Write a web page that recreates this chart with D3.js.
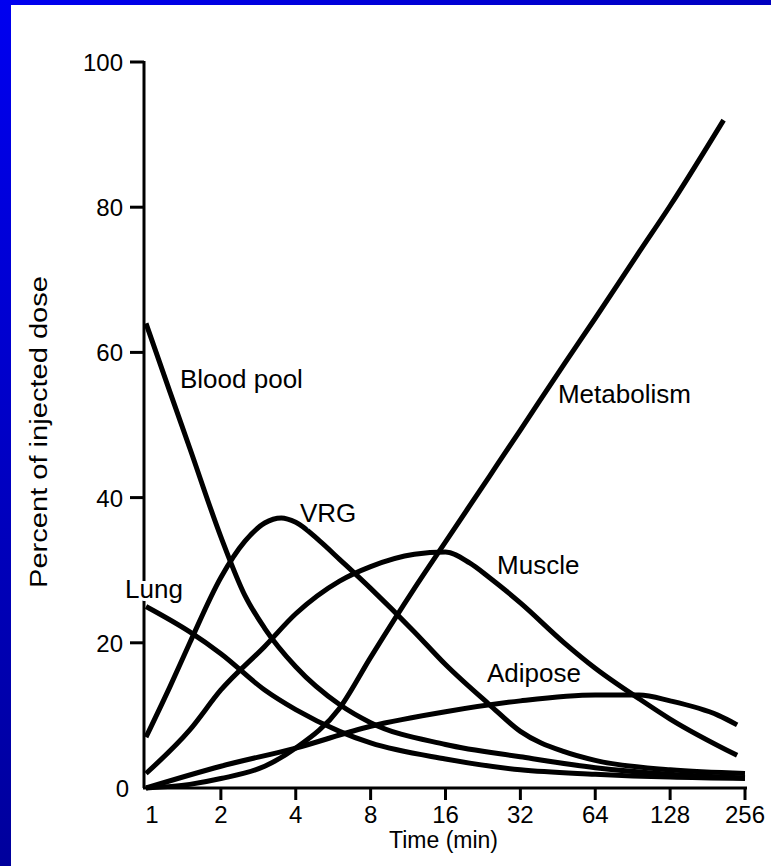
<!DOCTYPE html>
<html>
<head>
<meta charset="utf-8">
<script src="https://cdnjs.cloudflare.com/ajax/libs/d3/7.8.5/d3.min.js"></script>
<style>
  body { margin: 0; background: #fff; }
  text { font-family: "Liberation Sans", Arial, sans-serif; fill: #000; }
</style>
</head>
<body>
<div id="chart"></div>
<script>

// time points (min) and percent of injected dose
var lungTime = [1, 1.5, 2, 3, 4, 6, 8, 16, 32, 64, 128, 256];
var lungDose = [25, 21.5, 18.5, 13.5, 10.8, 7.8, 6.2, 4, 2.5, 1.9, 1.5, 1.3];

var bloodTime = [1, 1.25, 1.5, 2, 2.5, 3, 4, 6, 8, 16, 32, 64, 128, 256];
var bloodDose = [64, 54.5, 46.8, 34.6, 26.5, 22, 16.7, 11.5, 9, 6, 4.3, 2.8, 1.9, 1.4];

var vrgTime = [1, 1.25, 1.5, 2, 2.5, 3, 3.5, 4, 5, 6, 8, 12, 16, 24, 32, 48, 64, 128, 256];
var vrgDose = [7, 14, 20, 29, 34, 36.5, 37.2, 36.6, 34, 31.5, 27.5, 21.5, 17, 11.5, 7.8, 5, 3.8, 2.5, 2];

var muscleTime = [1, 1.5, 2, 3, 4, 6, 8, 12, 16, 20, 24, 32, 48, 64, 96, 128, 238];
var muscleDose = [2, 8, 13.5, 19.5, 24, 28.5, 30.5, 32.2, 32.5, 31, 29, 25.5, 20, 16.5, 12.3, 9.5, 4.5];

var adiposeTime = [1, 2, 4, 8, 16, 32, 64, 96, 128, 200, 238];
var adiposeDose = [0, 3, 5.5, 8.5, 10.5, 12, 12.8, 12.8, 12, 10, 8.7];

var metabTime = [1, 1.5, 2, 3, 4, 6, 8, 12, 16, 24, 32, 48, 64, 96, 128, 210];
var metabDose = [0, 0.5, 1.3, 3, 5.5, 11, 18, 27.5, 33.9, 42.9, 49.3, 58.4, 64.7, 73.8, 80.2, 92];

var xTicks = [1, 2, 4, 8, 16, 32, 64, 128, 256];
var yTicks = [0, 20, 40, 60, 80, 100];

var width = 771, height = 866;

var svg = d3.select('#chart').append('svg')
  .attr('width', width)
  .attr('height', height);

// slide frame: blue strips on left and top
var defs = svg.append('defs');
var gl = defs.append('linearGradient').attr('id', 'gLeft')
  .attr('x1', 0).attr('y1', 0).attr('x2', 0).attr('y2', 1);
gl.append('stop').attr('offset', 0).attr('stop-color', '#0000f0');
gl.append('stop').attr('offset', 1).attr('stop-color', '#00009c');
var gt = defs.append('linearGradient').attr('id', 'gTop')
  .attr('x1', 0).attr('y1', 0).attr('x2', 1).attr('y2', 0);
gt.append('stop').attr('offset', 0).attr('stop-color', '#0000f0');
gt.append('stop').attr('offset', 1).attr('stop-color', '#0000c0');

svg.append('rect').attr('width', width).attr('height', height).attr('fill', '#fff');
svg.append('rect').attr('width', width).attr('height', 5).attr('fill', 'url(#gTop)');
svg.append('rect').attr('width', 11).attr('height', height).attr('fill', 'url(#gLeft)');

var x = d3.scaleLog().base(2).domain([1, 256]).range([146, 745]);
var y = d3.scaleLinear().domain([0, 100]).range([788, 62]);

var axisX = 144;

// y axis
var yAxis = svg.append('g').attr('class', 'y-axis');
yAxis.append('line')
  .attr('x1', axisX).attr('x2', axisX)
  .attr('y1', y(100) - 1).attr('y2', y(0))
  .attr('stroke', '#000').attr('stroke-width', 3);
yAxis.selectAll('.tick').data(yTicks.filter(function(d) { return d > 0; }))
  .enter().append('line')
  .attr('class', 'tick')
  .attr('x1', axisX - 14).attr('x2', axisX)
  .attr('y1', function(d) { return y(d); })
  .attr('y2', function(d) { return y(d); })
  .attr('stroke', '#000').attr('stroke-width', 3);
yAxis.selectAll('.label').data(yTicks)
  .enter().append('text')
  .attr('class', 'label')
  .attr('x', function(d) { return d === 0 ? axisX - 15 : axisX - 21; })
  .attr('y', function(d) { return y(d) + 9; })
  .attr('text-anchor', 'end')
  .style('font-size', '24px')
  .text(function(d) { return d; });

svg.append('text')
  .attr('transform', 'translate(47,' + 432 + ') rotate(-90)')
  .attr('text-anchor', 'middle')
  .attr('textLength', 312)
  .attr('lengthAdjust', 'spacingAndGlyphs')
  .style('font-size', '23px')
  .text('Percent of injected dose');

// x axis
var xAxis = svg.append('g').attr('class', 'x-axis');
xAxis.append('line')
  .attr('x1', axisX - 1).attr('x2', x(256) + 2)
  .attr('y1', y(0)).attr('y2', y(0))
  .attr('stroke', '#000').attr('stroke-width', 3);
xAxis.selectAll('.tick').data(xTicks.slice(1))
  .enter().append('line')
  .attr('class', 'tick')
  .attr('x1', function(d) { return x(d); })
  .attr('x2', function(d) { return x(d); })
  .attr('y1', y(0)).attr('y2', y(0) + 12)
  .attr('stroke', '#000').attr('stroke-width', 3);
xAxis.selectAll('.label').data(xTicks)
  .enter().append('text')
  .attr('class', 'label')
  .attr('x', function(d) { return x(d) + (d === 1 ? 6 : 0); })
  .attr('y', y(0) + 35)
  .attr('text-anchor', 'middle')
  .style('font-size', '24px')
  .text(function(d) { return d; });

svg.append('text')
  .attr('x', x(16) - 2)
  .attr('y', 848)
  .attr('text-anchor', 'middle')
  .style('font-size', '23px')
  .text('Time (min)');

// curves
var series = [
  { name: 'Lung', t: lungTime, v: lungDose },
  { name: 'Blood pool', t: bloodTime, v: bloodDose },
  { name: 'VRG', t: vrgTime, v: vrgDose },
  { name: 'Muscle', t: muscleTime, v: muscleDose },
  { name: 'Adipose', t: adiposeTime, v: adiposeDose },
  { name: 'Metabolism', t: metabTime, v: metabDose }
];

var line = d3.line()
  .x(function(d) { return x(d[0]); })
  .y(function(d) { return y(d[1]); })
  .curve(d3.curveMonotoneX);

svg.append('g').selectAll('path').data(series)
  .enter().append('path')
  .attr('d', function(s) { return line(d3.zip(s.t, s.v)); })
  .attr('fill', 'none')
  .attr('stroke', '#000')
  .attr('stroke-width', 5)
  .attr('stroke-linejoin', 'round');

// curve labels
var labels = [
  { text: 'Blood pool', x: x(1.37), y: y(55.1) },
  { text: 'VRG', x: x(4.16), y: y(36.6) },
  { text: 'Lung', x: x(1) - 21, y: y(26.2) },
  { text: 'Muscle', x: x(25.8), y: y(29.5) },
  { text: 'Metabolism', x: x(45.3), y: y(53) },
  { text: 'Adipose', x: x(23.5), y: y(14.6) }
];

svg.append('g').selectAll('text').data(labels)
  .enter().append('text')
  .attr('x', function(d) { return d.x; })
  .attr('y', function(d) { return d.y; })
  .style('font-size', '26px')
  .attr('stroke', '#fff')
  .attr('stroke-width', 6)
  .attr('paint-order', 'stroke')
  .text(function(d) { return d.text; });

</script>
</body>
</html>
